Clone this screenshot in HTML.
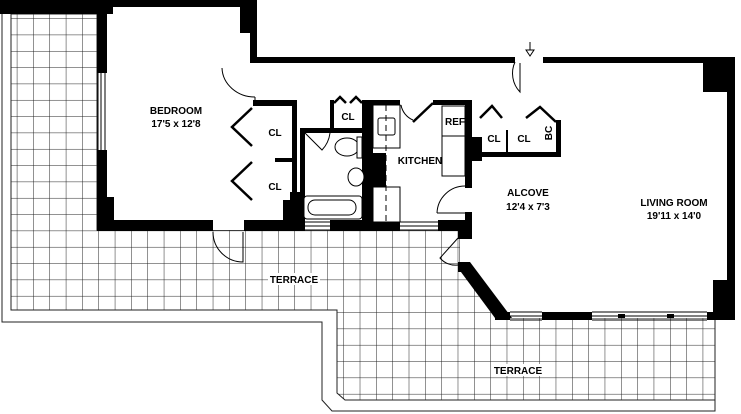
<!DOCTYPE html>
<html><head><meta charset="utf-8"><style>
html,body{margin:0;padding:0;background:#fff;width:741px;height:414px;overflow:hidden}
text{font-family:"Liberation Sans",Arial,sans-serif;font-size:10px;font-weight:bold;fill:#000}
</style></head><body>
<svg width="741" height="414" viewBox="0 0 741 414" xmlns="http://www.w3.org/2000/svg">
<defs>
<pattern id="g" width="16.33" height="16.33" patternUnits="userSpaceOnUse" x="0.5" y="2">
<path d="M0 0H16.33M0 0V16.33" stroke="#222" stroke-width="1" fill="none"/>
</pattern>
<clipPath id="tc"><polygon points="11,14 97,14 97,230 460,230 460,262 500,318 715,318 715,400 345,400 337,393 337,310 11,310"/></clipPath>
</defs>
<rect width="741" height="414" fill="#fff"/>
<rect width="741" height="414" fill="url(#g)" clip-path="url(#tc)"/>
<polygon points="11,14 97,14 97,230 460,230 460,262 500,318 715,318 715,400 345,400 337,393 337,310 11,310" fill="none" stroke="#222" stroke-width="1"/>
<polyline points="2,5 2,322 322,322 322,400 332,411 715,411 715,318" fill="none" stroke="#222" stroke-width="1"/>
<polygon points="107,7 243,7 243,63 520,63 728,63 728,318 500,318 460,262 460,230 107,230" fill="#fff"/>
<g fill="#000">
<rect x="0" y="0" width="257" height="7"/>
<rect x="0" y="0" width="113" height="14"/>
<rect x="240" y="0" width="17" height="33"/>
<rect x="250" y="0" width="7" height="63"/>
<rect x="257" y="57" width="258" height="6"/>
<rect x="543" y="57" width="192" height="6"/>
<rect x="703" y="57" width="30" height="35"/>
<rect x="727" y="57" width="8" height="261"/>
<rect x="713" y="280" width="22" height="38"/>
<rect x="97" y="7" width="10" height="66"/>
<rect x="97" y="150" width="10" height="80"/>
<rect x="97" y="197" width="17" height="33"/>
<rect x="97" y="220" width="116" height="11"/>
<rect x="244" y="220" width="61" height="11"/>
<rect x="330" y="220" width="70" height="11"/>
<rect x="438" y="220" width="33" height="11"/>
<rect x="253" y="100" width="44" height="6"/>
<rect x="292" y="100" width="5" height="125"/>
<rect x="275" y="158" width="22" height="4"/>
<rect x="283" y="200" width="14" height="22"/>
<rect x="290" y="192" width="14" height="30"/>
<rect x="300" y="128" width="5" height="95"/>
<rect x="330" y="100" width="4" height="30"/>
<rect x="300" y="128" width="63" height="5"/>
<rect x="362" y="100" width="11" height="130"/>
<rect x="362" y="100" width="38" height="5"/>
<rect x="433" y="100" width="39" height="5"/>
<rect x="465" y="100" width="7" height="88"/>
<rect x="465" y="212" width="7" height="13"/>
<rect x="373" y="153" width="13" height="34"/>
<rect x="465" y="137" width="17" height="24"/>
<rect x="482" y="152" width="78" height="5"/>
<rect x="556" y="120" width="5" height="37"/>
<rect x="506" y="130" width="2" height="27"/>
<rect x="458" y="225" width="14" height="14"/>
<rect x="458" y="262" width="12" height="10"/>
<polygon points="458,268 470,262 512,318 500,320 495,318"/>
<rect x="495" y="312" width="15" height="8"/>
<rect x="542" y="312" width="50" height="8"/>
<rect x="618" y="314" width="7" height="4"/>
<rect x="667" y="314" width="7" height="4"/>
<rect x="707" y="312" width="28" height="8"/>
</g>
<g stroke="#000" stroke-width="1" fill="none">
<path d="M98 73V150M101 73V150M105 73V150"/>
<path d="M305 222H330M305 226H330M305 230H330"/>
<path d="M400 222H438M400 226H438M400 230H438"/>
<path d="M510 312H542M510 316H542M510 320H542"/>
<path d="M592 312H707M592 316H707M592 320H707"/>
<path d="M222 68A33 30 0 0 0 255 97"/>
<path d="M255 97V102"/>
<path d="M520 63V92A27 27 0 0 1 515 62"/>
<path d="M243 232V262A30 30 0 0 1 213 232"/>
<path d="M437 213H465M465 186A28 28 0 0 0 437 213"/>
<path d="M458 238L440 258A20 20 0 0 0 458 265"/>
<path d="M305 133L322 150A30 30 0 0 0 330 133"/>
<path d="M401 105A20 20 0 0 0 413 120"/>
</g>
<g stroke="#000" stroke-width="2.5" fill="none">
<path d="M252 108L232 127L252 146"/>
<path d="M252 162L232 181L252 200"/>
<path d="M334 103L340 97L346 103M350 103L356 97L362 103"/>
<path d="M413 122L433 103"/>
<path d="M480 118L492 106L502 118"/>
<path d="M526 118L540 107L556 122"/>
</g>
<g stroke="#000" stroke-width="1" fill="#fff">
<rect x="373" y="105" width="27" height="43"/>
<rect x="378" y="118" width="17" height="17" rx="2"/>
<rect x="373" y="187" width="27" height="35"/>
<rect x="442" y="106" width="23" height="30"/>
<rect x="442" y="136" width="23" height="40"/>
<ellipse cx="347" cy="147" rx="12" ry="9"/>
<rect x="357" y="137" width="5" height="21"/>
<ellipse cx="356" cy="177" rx="8" ry="9"/>
<rect x="304" y="196" width="58" height="23" rx="3"/>
<rect x="308" y="200" width="48" height="15" rx="7"/>
</g>
<path d="M386 105V222" stroke="#000" stroke-dasharray="6,4"/>
<path d="M530 42V50M526 50L530 56L534 50Z" stroke="#000" fill="none"/>
<text x="176" y="114" text-anchor="middle">BEDROOM</text>
<text x="176" y="127" text-anchor="middle">17'5 x 12'8</text>
<text x="275" y="136" text-anchor="middle">CL</text>
<text x="275" y="190" text-anchor="middle">CL</text>
<text x="348" y="120" text-anchor="middle">CL</text>
<text x="420" y="164" text-anchor="middle">KITCHEN</text>
<text x="455" y="125" text-anchor="middle">REF</text>
<text x="494" y="142" text-anchor="middle">CL</text>
<text x="524" y="142" text-anchor="middle">CL</text>
<text transform="translate(552,133) rotate(-90)" text-anchor="middle">BC</text>
<text x="528" y="196" text-anchor="middle">ALCOVE</text>
<text x="528" y="210" text-anchor="middle">12'4 x 7'3</text>
<text x="674" y="206" text-anchor="middle">LIVING ROOM</text>
<text x="674" y="219" text-anchor="middle">19'11 x 14'0</text>
<rect x="268" y="273" width="52" height="12" fill="#fff"/>
<text x="294" y="283" text-anchor="middle">TERRACE</text>
<rect x="492" y="364" width="52" height="12" fill="#fff"/>
<text x="518" y="374" text-anchor="middle">TERRACE</text>
</svg>
</body></html>
